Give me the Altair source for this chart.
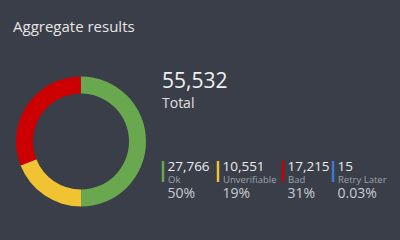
import altair as alt
import pandas as pd

categories = ["Ok", "Unverifiable", "Bad", "Retry Later"]
values = [27766, 10551, 17215, 15]
count_labels = ["27,766", "10,551", "17,215", "15"]
pct_labels = ["50%", "19%", "31%", "0.03%"]
colors = ["#6aa84f", "#f1c232", "#cc0000", "#3c78d8"]
title_text = "Aggregate results"
total_text = "55,532"
total_label = "Total"

BG = "#393e48"
FONT = "Open Sans"

df = pd.DataFrame({"category": categories, "value": values, "order": list(range(len(categories)))})

arc = alt.Chart(df).mark_arc(innerRadius=48, outerRadius=65, stroke=None).encode(
    theta=alt.Theta("value:Q", stack=True),
    color=alt.Color("category:N", scale=alt.Scale(domain=categories, range=colors), legend=None),
    order=alt.Order("order:Q"),
    x=alt.value(81),
    y=alt.value(141.5),
)

def txt(s, x, y, size, color, weight="normal"):
    return alt.Chart(pd.DataFrame({"t": [s]})).mark_text(
        align="left", baseline="alphabetic", font=FONT, fontSize=size, color=color, fontWeight=weight
    ).encode(text="t:N", x=alt.value(x), y=alt.value(y))

layers = [arc,
          txt(title_text, 13, 32, 15, "#e6e6e6"),
          txt(total_text, 162, 88, 21, "#f0f0f0"),
          txt(total_label, 162, 108, 14, "#e0e0e0")]

xs = [163, 218, 283, 333]
for i, cat in enumerate(categories):
    one = pd.DataFrame({"category": [cat], "count": [count_labels[i]], "pct": [pct_labels[i]]})
    base = alt.Chart(one)
    layers.append(base.mark_rule(strokeWidth=2.5).encode(
        x=alt.value(xs[i]), y=alt.value(161), y2=alt.value(182),
        color=alt.value(colors[i])))
    layers.append(base.mark_text(align="left", baseline="alphabetic", font=FONT, fontSize=13.5, color="#ececec").encode(
        text="count:N", x=alt.value(xs[i] + 4.5), y=alt.value(170.5)))
    layers.append(base.mark_text(align="left", baseline="alphabetic", font=FONT, fontSize=9.5, color="#9ea3ab").encode(
        text="category:N", x=alt.value(xs[i] + 5), y=alt.value(182.5)))
    layers.append(base.mark_text(align="left", baseline="alphabetic", font=FONT, fontSize=14, color="#c9ccd0").encode(
        text="pct:N", x=alt.value(xs[i] + 4.5), y=alt.value(198)))

chart = alt.layer(*layers).properties(
    width=400, height=240, padding=0, autosize=alt.AutoSizeParams(type="none"),
    background=BG
).configure_view(stroke=None)

chart.save("out.html", embed_options={"renderer": "svg", "actions": False})
